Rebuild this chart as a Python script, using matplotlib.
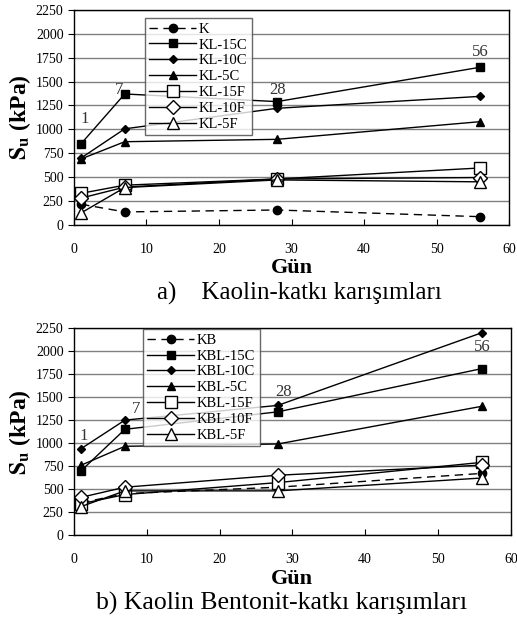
import numpy as np
import matplotlib.pyplot as plt

plt.rcParams['font.family'] = ['Liberation Serif', 'DejaVu Serif']
plt.rcParams['mathtext.fontset'] = 'stix'

gun = [1, 7, 28, 56]

# a) Kaolin
k_names = ['K', 'KL-15C', 'KL-10C', 'KL-5C', 'KL-15F', 'KL-10F', 'KL-5F']
K = [215, 135, 155, 85]
KL_15C = [850, 1370, 1290, 1650]
KL_10C = [700, 1005, 1220, 1345]
KL_5C = [690, 870, 895, 1080]
KL_15F = [330, 415, 480, 595]
KL_10F = [280, 395, 480, 495]
KL_5F = [125, 390, 470, 450]

# b) Kaolin Bentonit
kb_names = ['KB', 'KBL-15C', 'KBL-10C', 'KBL-5C', 'KBL-15F', 'KBL-10F', 'KBL-5F']
KB = [350, 450, 520, 670]
KBL_15C = [700, 1150, 1340, 1810]
KBL_10C = [940, 1250, 1410, 2200]
KBL_5C = [760, 965, 990, 1400]
KBL_15F = [340, 440, 570, 790]
KBL_10F = [410, 520, 650, 760]
KBL_5F = [310, 480, 480, 620]

styles = [
    dict(ls='--', marker='o', ms=6, mfc='black', dashes=(6, 4)),
    dict(ls='-', marker='s', ms=6, mfc='black'),
    dict(ls='-', marker='D', ms=4.5, mfc='black'),
    dict(ls='-', marker='^', ms=6, mfc='black'),
    dict(ls='-', marker='s', ms=8, mfc='white'),
    dict(ls='-', marker='D', ms=7, mfc='white'),
    dict(ls='-', marker='^', ms=9, mfc='white'),
]

fig = plt.figure(figsize=(5.17, 6.21), dpi=100)
ax1 = fig.add_axes([0.143, 0.638, 0.842, 0.346])
ax2 = fig.add_axes([0.143, 0.1385, 0.845, 0.333])


def draw(ax, series, names, labels, leg_anchor, xlab_y):
    for s, n, st in zip(series, names, styles):
        ax.plot(gun, s, color='black', lw=1, mec='black', mew=1, label=n, **st)
    ax.set_xlim(0, 60)
    ax.set_ylim(0, 2250)
    ax.set_xticks(np.arange(0, 61, 10))
    ax.set_yticks(np.arange(0, 2251, 250))
    ax.yaxis.grid(True, color='#808080', lw=1)
    ax.set_axisbelow(True)
    ax.tick_params(axis='x', direction='in', labelsize=10, pad=13, length=4)
    ax.tick_params(axis='y', direction='out', labelsize=10, length=4)
    for sp in ax.spines.values():
        sp.set_linewidth(1)
    ax.set_ylabel(r'$\mathbf{S_u}$ (kPa)', fontsize=17, fontweight='bold', labelpad=2)
    ax.set_xlabel('Gün', fontsize=16, fontweight='bold')
    ax.xaxis.set_label_coords(0.5, xlab_y)
    for txt, x, y in labels:
        ax.text(x, y, txt, fontsize=12, color='#333333', ha='center', va='center')
    leg = ax.legend(loc='upper left', bbox_to_anchor=leg_anchor, fontsize=10.5,
                    handlelength=3.2, frameon=True, fancybox=False, edgecolor='#444444',
                    borderpad=0.3, labelspacing=0.18, handletextpad=0.2,
                    borderaxespad=0)
    leg.get_frame().set_linewidth(1)


draw(ax1, [K, KL_15C, KL_10C, KL_5C, KL_15F, KL_10F, KL_5F], k_names,
     [('1', 1.5, 1110), ('7', 6.2, 1410), ('28', 28, 1410), ('56', 56, 1810)],
     (0.163, 0.962), -0.155)
draw(ax2, [KB, KBL_15C, KBL_10C, KBL_5C, KBL_15F, KBL_10F, KBL_5F], kb_names,
     [('1', 1.3, 1080), ('7', 8.6, 1370), ('28', 28.8, 1560), ('56', 56.1, 2050)],
     (0.158, 0.995), -0.165)

fig.text(0.58, 0.517, 'a)    Kaolin-katkı karışımları', fontsize=18, ha='center')
fig.text(0.544, 0.018, 'b) Kaolin Bentonit-katkı karışımları', fontsize=18.5, ha='center')

fig.savefig('out.png', dpi=100)
